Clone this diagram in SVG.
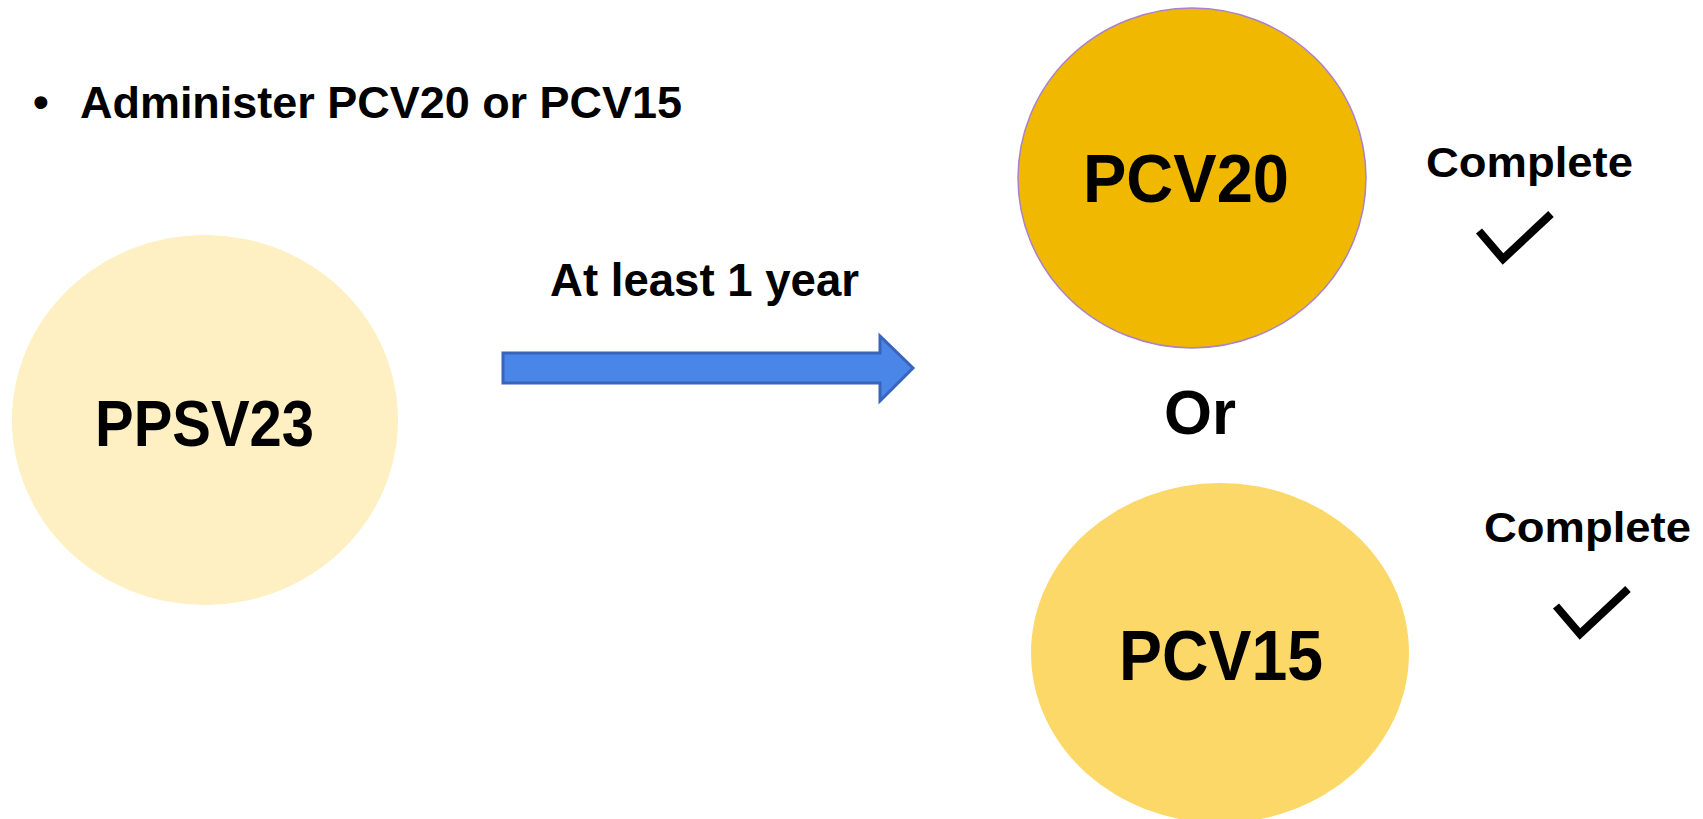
<svg xmlns="http://www.w3.org/2000/svg" width="1703" height="819" viewBox="0 0 1703 819">
  <defs>
    <style>
      .t { font-family: "Liberation Sans", Arial, sans-serif; font-weight: bold; fill: #000; }
      .check { fill: none; stroke: #000; stroke-width: 8; stroke-linejoin: miter; stroke-linecap: butt; }
    </style>
    <path id="checkmark" class="check" d="M1479,231 L1503,259 L1551,214"/>
  </defs>
  <rect x="0" y="0" width="1703" height="819" fill="#ffffff"/>

  <g id="title">
    <text class="t" x="33" y="117" font-size="45">•</text>
    <text class="t" x="80" y="118" font-size="45" textLength="602" lengthAdjust="spacingAndGlyphs">Administer PCV20 or PCV15</text>
  </g>

  <g id="node-ppsv23">
    <ellipse cx="205" cy="420" rx="193" ry="185" fill="#FEF0C2"/>
    <text class="t" x="95" y="446" font-size="64" textLength="219" lengthAdjust="spacingAndGlyphs">PPSV23</text>
  </g>

  <g id="node-pcv20">
    <ellipse cx="1192" cy="178" rx="174" ry="170" fill="#F1B800" stroke="#A882CE" stroke-width="1.5"/>
    <text class="t" x="1083" y="202" font-size="69" textLength="206" lengthAdjust="spacingAndGlyphs">PCV20</text>
  </g>

  <g id="node-or">
    <text class="t" x="1164" y="434" font-size="63" textLength="72" lengthAdjust="spacingAndGlyphs">Or</text>
  </g>

  <g id="node-pcv15">
    <ellipse cx="1220" cy="653" rx="189" ry="170" fill="#FCD869"/>
    <text class="t" x="1119" y="680" font-size="70" textLength="204" lengthAdjust="spacingAndGlyphs">PCV15</text>
  </g>

  <g id="node-complete-1">
    <text class="t" x="1426" y="177" font-size="43" textLength="207" lengthAdjust="spacingAndGlyphs">Complete</text>
    <use href="#checkmark"/>
  </g>

  <g id="node-complete-2">
    <text class="t" x="1484" y="542" font-size="43" textLength="207" lengthAdjust="spacingAndGlyphs">Complete</text>
    <use href="#checkmark" transform="translate(77,375)"/>
  </g>

  <g id="connectors">
    <polygon points="503,353 880,353 880,336 913,368 880,401 880,383 503,383" fill="#4A86E8" stroke="#3864BC" stroke-width="3" stroke-linejoin="miter"/>
    <text class="t" x="550" y="296" font-size="46" textLength="309" lengthAdjust="spacingAndGlyphs">At least 1 year</text>
  </g>
</svg>
